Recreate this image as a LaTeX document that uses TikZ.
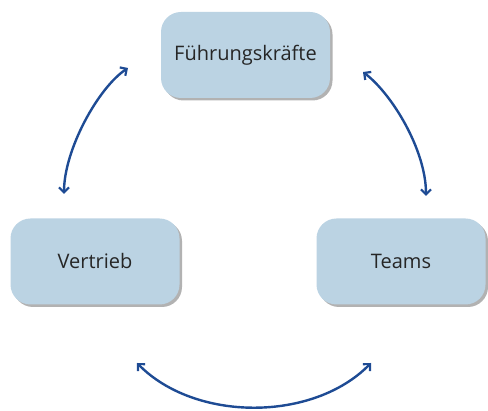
\documentclass[tikz,border=0pt]{standalone}
\usepackage{fontspec}
\setmainfont{Open Sans}
\usetikzlibrary{arrows.meta,shadows}
\definecolor{boxfill}{HTML}{BBD3E3}
\definecolor{arrowblue}{HTML}{1E4B94}
\tikzset{
  box/.style={rounded corners=20pt, fill=boxfill, minimum width=169pt, minimum height=86pt,
    font=\fontsize{20}{24}\selectfont, text=black!85,
    drop shadow={shadow xshift=2.5pt, shadow yshift=-2.5pt, fill=black, opacity=0.3}},
  link/.style={draw=arrowblue, line width=2.4pt, {Straight Barb[length=5pt,width=10pt,line width=2.2pt]}-{Straight Barb[length=5pt,width=10pt,line width=2.2pt]}}
}
\begin{document}
\begin{tikzpicture}[x=1pt,y=-1pt]
\useasboundingbox (0,0) rectangle (488,411);
\node[box] (fk) at (245.5,55) {Führungskräfte};
\node[box] (vt) at (95,261.5) {Vertrieb};
\node[box] (tm) at (401,261.5) {Teams};
\coordinate (l1) at (128,68);
\coordinate (l2) at (64,194);
\coordinate (r1) at (363,72);
\coordinate (r2) at (426,196);
\coordinate (b1) at (137,363);
\coordinate (b2) at (371,363);
\draw[link] (l1) .. controls (98,88) and (64,150) .. (l2);
\draw[link] (r1) .. controls (392,94) and (426,150) .. (r2);
\draw[link] (b1) .. controls (195,422) and (313,422) .. (b2);
\end{tikzpicture}
\end{document}
